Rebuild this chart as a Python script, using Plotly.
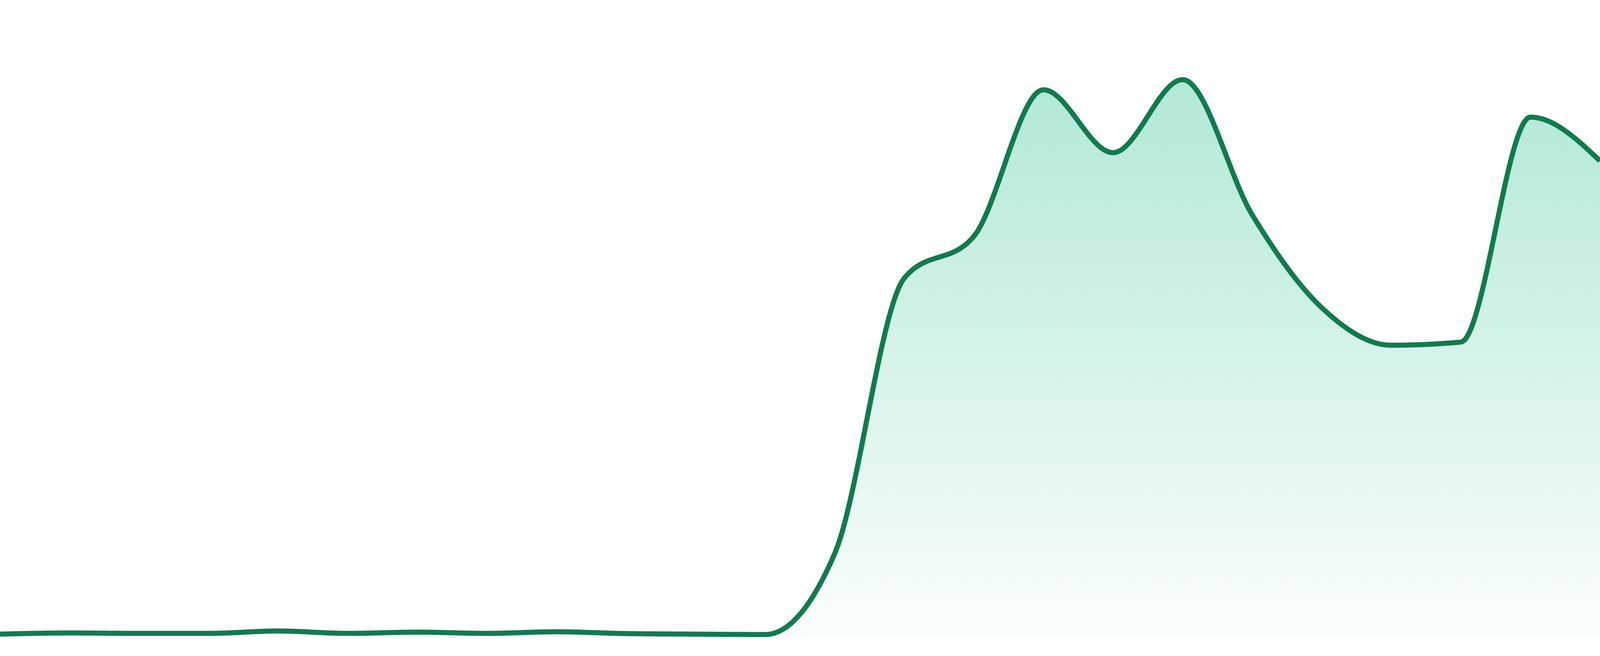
import plotly.graph_objects as go

# Data
points = list(range(24))
values = [0.49, 0.67, 0.61, 0.61, 0.98, 0.61, 0.80, 0.61, 0.86, 0.58, 0.49, 0.43,
          13.17, 56.37, 62.93, 85.91, 76.04, 87.50, 66.30, 51.72, 45.83, 46.32, 81.62, 74.75]

y_min, y_max = 0, 100


def _sign(v):
    return (v > 0) - (v < 0)


def monotone_x(xs, ys, steps=48):
    """Monotone cubic (Fritsch-Carlson, as in d3.curveMonotoneX) rendering of the series."""
    n = len(xs)
    t = [0.0] * n
    for i in range(1, n - 1):
        h0 = xs[i] - xs[i - 1]
        h1 = xs[i + 1] - xs[i]
        s0 = (ys[i] - ys[i - 1]) / h0
        s1 = (ys[i + 1] - ys[i]) / h1
        p = (s0 * h1 + s1 * h0) / (h0 + h1)
        t[i] = (_sign(s0) + _sign(s1)) * min(abs(s0), abs(s1), 0.5 * abs(p))
    h = xs[1] - xs[0]
    t[0] = (3 * (ys[1] - ys[0]) / h - t[1]) / 2
    h = xs[-1] - xs[-2]
    t[-1] = (3 * (ys[-1] - ys[-2]) / h - t[-2]) / 2
    cx, cy = [xs[0]], [ys[0]]
    for i in range(n - 1):
        x0, y0, x1, y1 = xs[i], ys[i], xs[i + 1], ys[i + 1]
        dx = (x1 - x0) / 3
        p1 = (x0 + dx, y0 + dx * t[i])
        p2 = (x1 - dx, y1 - dx * t[i + 1])
        for k in range(1, steps + 1):
            u = k / steps
            a, b, c, d = (1 - u) ** 3, 3 * u * (1 - u) ** 2, 3 * u * u * (1 - u), u ** 3
            cx.append(a * x0 + b * p1[0] + c * p2[0] + d * x1)
            cy.append(a * y0 + b * p1[1] + c * p2[1] + d * y1)
    return cx, cy


curve_x, curve_y = monotone_x(points, values)

fig = go.Figure()
fig.add_trace(go.Scatter(
    x=curve_x,
    y=curve_y,
    mode="lines",
    line=dict(color="#127a50", width=13, simplify=False),
    fill="tozeroy",
    fillgradient=dict(
        type="vertical",
        start=y_min,
        stop=y_max,
        colorscale=[[0, "rgba(16,185,129,0.02)"], [1, "rgba(16,185,129,0.37)"]],
    ),
    hoverinfo="skip",
))

fig.update_layout(
    autosize=True,
    margin=dict(l=0, r=0, t=0, b=0),
    paper_bgcolor="white",
    plot_bgcolor="white",
    showlegend=False,
    xaxis=dict(visible=False, range=[points[0], points[-1]], fixedrange=True),
    yaxis=dict(visible=False, range=[y_min, y_max], fixedrange=True,
               domain=[48 / 1680, 1]),
)

post = """
var st = document.createElement('style');
st.innerHTML = 'html,body{margin:0;padding:0;overflow:hidden;width:100%;height:100%;}';
document.head.appendChild(st);
var gd = document.getElementById('{plot_id}');
var k = window.innerHeight / 1680;
Plotly.restyle(gd, {'line.width': 13 * k});
Plotly.Plots.resize(gd);
"""

fig.write_html(
    "out.html",
    config={"displayModeBar": False, "staticPlot": True, "responsive": True},
    default_width="100vw",
    default_height="100vh",
    post_script=post,
)
